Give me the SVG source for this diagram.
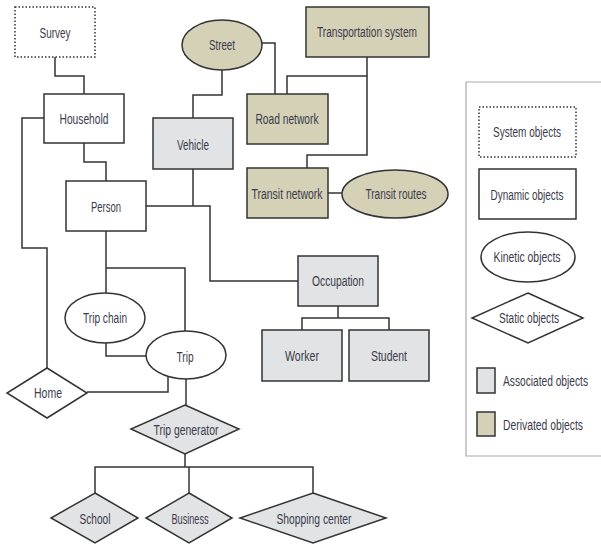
<svg xmlns="http://www.w3.org/2000/svg" width="601" height="545" viewBox="0 0 601 545">
<style>
.n{stroke:#333;stroke-width:1.5}
.w{fill:#fff}
.a{fill:#e1e3e4}
.d{fill:#d4d1b7}
.dot{fill:#fff;stroke:#333;stroke-width:1.5;stroke-dasharray:1.5 2}
text{font-family:"Liberation Sans",Arial,sans-serif;font-size:14px;fill:#3b3b4b;text-anchor:middle;dominant-baseline:central}
.c{fill:none;stroke:#333;stroke-width:1.5}
.lt{text-anchor:end}
</style>
<rect width="601" height="545" fill="#fff"/>
<g id="connectors" class="c">
<polyline points="55,57 55,76 84,76 84,94"/>
<polyline points="44,118 22,118 22,248 47,248 47,368"/>
<polyline points="84,143 84,162 106,162 106,181"/>
<polyline points="222,70 222,95 193,95 193,118"/>
<polyline points="262,43 275,43 275,94"/>
<polyline points="367,57 367,76 287,76 287,94"/>
<polyline points="367,76 367,155 307,155 307,168"/>
<line x1="328" y1="193" x2="342" y2="193"/>
<polyline points="193,169 193,206"/>
<polyline points="146,206 210,206 210,281 298,281"/>
<polyline points="338,306 338,318"/>
<polyline points="302,330 302,318 389,318 389,330"/>
<polyline points="106,231 106,293"/>
<polyline points="106,268 185,268 185,331"/>
<polyline points="106,343 106,356 146,356"/>
<polyline points="87,392 168,392 168,376"/>
<polyline points="186,379 186,405"/>
<polyline points="185,454 185,467"/>
<polyline points="95,493 95,467 313,467 313,493"/>
<line x1="189" y1="467" x2="189" y2="493"/>
</g>
<g id="survey"><rect class="dot" x="15" y="7" width="80" height="50"/><text x="55" y="33" textLength="31" lengthAdjust="spacingAndGlyphs">Survey</text></g>
<g id="household"><rect class="n w" x="44" y="94" width="80" height="49"/><text x="84" y="119" textLength="49" lengthAdjust="spacingAndGlyphs">Household</text></g>
<g id="person"><rect class="n w" x="66" y="181" width="80" height="50"/><text x="106" y="207" textLength="30" lengthAdjust="spacingAndGlyphs">Person</text></g>
<g id="vehicle"><rect class="n a" x="153" y="118" width="80" height="51"/><text x="193" y="145" textLength="32" lengthAdjust="spacingAndGlyphs">Vehicle</text></g>
<g id="street"><ellipse class="n d" cx="222" cy="45" rx="40" ry="25"/><text x="222" y="45" textLength="26" lengthAdjust="spacingAndGlyphs">Street</text></g>
<g id="road-network"><rect class="n d" x="247" y="94" width="81" height="50"/><text x="287" y="119" textLength="63" lengthAdjust="spacingAndGlyphs">Road network</text></g>
<g id="transportation-system"><rect class="n d" x="306" y="7" width="123" height="50"/><text x="367" y="32" textLength="100" lengthAdjust="spacingAndGlyphs">Transportation system</text></g>
<g id="transit-network"><rect class="n d" x="247" y="168" width="81" height="50"/><text x="287" y="194" textLength="71" lengthAdjust="spacingAndGlyphs">Transit network</text></g>
<g id="transit-routes"><ellipse class="n d" cx="395" cy="194" rx="53" ry="24"/><text x="396" y="194" textLength="61" lengthAdjust="spacingAndGlyphs">Transit routes</text></g>
<g id="occupation"><rect class="n a" x="298" y="256" width="80" height="50"/><text x="338" y="281" textLength="52" lengthAdjust="spacingAndGlyphs">Occupation</text></g>
<g id="worker"><rect class="n a" x="262" y="330" width="80" height="51"/><text x="302" y="356" textLength="34" lengthAdjust="spacingAndGlyphs">Worker</text></g>
<g id="student"><rect class="n a" x="349" y="330" width="80" height="51"/><text x="389" y="356" textLength="36" lengthAdjust="spacingAndGlyphs">Student</text></g>
<g id="trip-chain"><ellipse class="n w" cx="105" cy="318" rx="40" ry="25"/><text x="105" y="318" textLength="44" lengthAdjust="spacingAndGlyphs">Trip chain</text></g>
<g id="trip"><ellipse class="n w" cx="186" cy="355" rx="40" ry="24"/><text x="185" y="357" textLength="17" lengthAdjust="spacingAndGlyphs">Trip</text></g>
<g id="home"><polygon class="n w" points="47,368 87,393 47,418 7,393"/><text x="48" y="393" textLength="28" lengthAdjust="spacingAndGlyphs">Home</text></g>
<g id="trip-generator"><polygon class="n a" points="185,405 239,429 185,454 131,429"/><text x="186" y="430" textLength="65" lengthAdjust="spacingAndGlyphs">Trip generator</text></g>
<g id="school"><polygon class="n a" points="95,493 138,518 95,543 51,518"/><text x="95" y="519" textLength="31" lengthAdjust="spacingAndGlyphs">School</text></g>
<g id="business"><polygon class="n a" points="189,493 232,518 189,543 146,518"/><text x="190" y="519" textLength="37" lengthAdjust="spacingAndGlyphs">Business</text></g>
<g id="shopping-center"><polygon class="n a" points="313,493 386,518 313,543 240,518"/><text x="314" y="519" textLength="75" lengthAdjust="spacingAndGlyphs">Shopping center</text></g>
<g id="legend">
<path d="M601,82 H466 V456 H601" fill="none" stroke="#aaa" stroke-width="1.2"/>
<rect class="dot" x="479" y="107" width="97" height="50"/><text x="527" y="132" textLength="68" lengthAdjust="spacingAndGlyphs">System objects</text>
<rect class="n w" x="479" y="169" width="97" height="50"/><text x="527" y="195" textLength="73" lengthAdjust="spacingAndGlyphs">Dynamic objects</text>
<ellipse class="n w" cx="528" cy="257" rx="47" ry="25"/><text x="527" y="257" textLength="67" lengthAdjust="spacingAndGlyphs">Kinetic objects</text>
<polygon class="n w" points="528,293 583,318 528,343 472,318"/><text x="529" y="318" textLength="60" lengthAdjust="spacingAndGlyphs">Static objects</text>
<rect class="n a" x="477" y="368" width="18" height="25"/><text class="lt" x="588" y="381" textLength="85" lengthAdjust="spacingAndGlyphs">Associated objects</text>
<rect class="n d" x="477" y="412" width="18" height="24"/><text class="lt" x="583" y="425" textLength="80" lengthAdjust="spacingAndGlyphs">Derivated objects</text>
</g>
</svg>
